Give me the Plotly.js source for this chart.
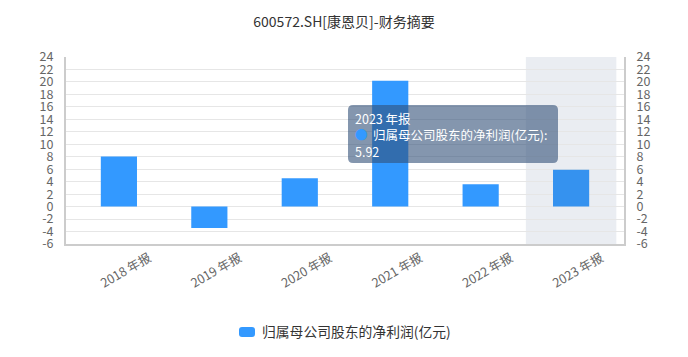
<!DOCTYPE html>
<html>
<head>
<meta charset="utf-8">
<script src="https://cdn.plot.ly/plotly-3.0.1.min.js"></script>
<style>html,body{margin:0;padding:0;background:#fff;}#chart{width:688px;height:357px;}</style>
</head>
<body>
<div id="chart"></div>
<script>
const categories = ["2018 年报", "2019 年报", "2020 年报", "2021 年报", "2022 年报", "2023 年报"];
const netProfit = [8.05, -3.43, 4.54, 20.2, 3.58, 5.92];
const seriesName = "归属母公司股东的净利润(亿元)";
const yTicks = [-6, -4, -2, 0, 2, 4, 6, 8, 10, 12, 14, 16, 18, 20, 22, 24];
const highlightIndex = 5;
const seriesColor = "#3399ff";

const FONT = "'Noto Sans CJK SC', 'Noto Sans', sans-serif";
const W = 688, H = 357;
const L = 66, R = 64, T = 57, B = 113;
const pw = W - L - R, ph = H - T - B;
const px2x = p => (p - L) / pw;
const py2y = p => (H - B - p) / ph;

// rounded rectangle path in paper coordinates from pixel corners
function roundRect(x0, y0, x1, y1, r) {
  const X = p => px2x(p).toFixed(5), Y = p => py2y(p).toFixed(5);
  return `M${X(x0 + r)},${Y(y0)} L${X(x1 - r)},${Y(y0)} Q${X(x1)},${Y(y0)} ${X(x1)},${Y(y0 + r)} ` +
    `L${X(x1)},${Y(y1 - r)} Q${X(x1)},${Y(y1)} ${X(x1 - r)},${Y(y1)} L${X(x0 + r)},${Y(y1)} ` +
    `Q${X(x0)},${Y(y1)} ${X(x0)},${Y(y1 - r)} L${X(x0)},${Y(y0 + r)} Q${X(x0)},${Y(y0)} ${X(x0 + r)},${Y(y0)} Z`;
}

const barColors = categories.map((c, i) => i === highlightIndex ? "#3592ef" : seriesColor);

const traces = [
  {
    type: "bar",
    x: categories,
    y: netProfit,
    name: seriesName,
    width: 0.4,
    marker: { color: barColors, line: { width: 0 } },
    showlegend: false,
    hoverinfo: "skip"
  },
  {
    type: "scatter",
    mode: "markers",
    x: categories,
    y: netProfit,
    yaxis: "y2",
    marker: { opacity: 0 },
    showlegend: false,
    hoverinfo: "skip"
  }
];

const axisCommon = {
  range: [-6, 24],
  tickvals: yTicks,
  ticktext: yTicks.map(String),
  showgrid: true,
  gridcolor: "#e6e6e6",
  gridwidth: 1,
  zeroline: false,
  showline: true,
  linecolor: "#cccccc",
  linewidth: 2,
  ticks: "",
  ticklabelstandoff: 8,
  tickfont: { family: FONT, size: 12.5, color: "#666666" },
  fixedrange: true
};

const tipX0 = 348, tipY0 = 105, tipX1 = 558, tipY1 = 163;

const layout = {
  width: W, height: H,
  margin: { l: L, r: R, t: T, b: B, pad: 0 },
  paper_bgcolor: "#ffffff",
  plot_bgcolor: "#ffffff",
  title: {
    text: "600572.SH[康恩贝]-财务摘要",
    x: 0.5, xref: "container", xanchor: "center",
    y: 1 - 22 / H, yref: "container", yanchor: "middle",
    font: { family: FONT, size: 14, color: "#333333" }
  },
  barmode: "overlay",
  xaxis: {
    type: "category",
    range: [-0.585, 5.585],
    showgrid: false,
    showline: true,
    linecolor: "#cccccc",
    linewidth: 2,
    ticks: "",
    tickangle: -30,
    ticklabelstandoff: 0,
    ticklabelshift: 30,
    tickfont: { family: FONT, size: 12.5, color: "#666666" },
    fixedrange: true
  },
  yaxis: Object.assign({}, axisCommon, { side: "left" }),
  yaxis2: Object.assign({}, axisCommon, { side: "right", overlaying: "y", showgrid: false }),
  showlegend: false,
  shapes: [
    {
      type: "rect", xref: "x", yref: "paper",
      x0: highlightIndex - 0.5, x1: highlightIndex + 0.5, y0: 0, y1: 1,
      fillcolor: "rgba(190,200,215,0.33)", line: { width: 0 }, layer: "below"
    },
    {
      type: "path", xref: "paper", yref: "paper",
      path: roundRect(tipX0, tipY0, tipX1, tipY1, 5),
      fillcolor: "rgba(50,80,120,0.6)", line: { width: 0 }, layer: "above"
    },
    {
      type: "path", xref: "paper", yref: "paper",
      path: roundRect(239, 327, 255, 337, 3),
      fillcolor: seriesColor, line: { width: 0 }, layer: "above"
    }
  ],
  annotations: [
    {
      xref: "paper", yref: "paper",
      x: px2x(tipX0 + 5), y: py2y(tipY0 + 2),
      xanchor: "left", yanchor: "top", align: "left",
      showarrow: false,
      text: categories[highlightIndex] + "<br><span style='color:#3399ff'>●</span>  " + seriesName + ":<br>" + netProfit[highlightIndex].toFixed(2),
      font: { family: FONT, size: 12.5, color: "#ffffff" }
    },
    {
      xref: "paper", yref: "paper",
      x: px2x(260), y: py2y(331),
      xanchor: "left", yanchor: "middle", align: "left",
      showarrow: false,
      text: seriesName,
      font: { family: FONT, size: 13.8, color: "#333333" }
    }
  ]
};

Plotly.newPlot("chart", traces, layout, { displayModeBar: false, staticPlot: true });
</script>
</body>
</html>
